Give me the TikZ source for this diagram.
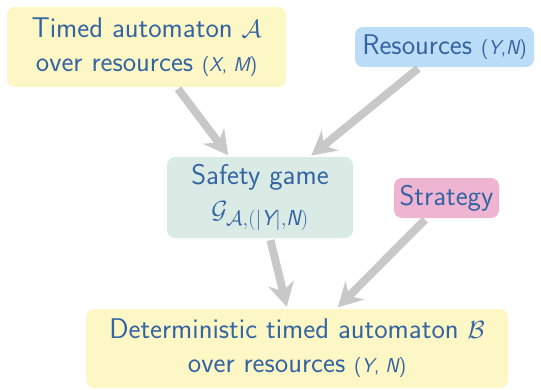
\documentclass[tikz,border=0pt]{standalone}
\usepackage{fontspec}
\usepackage{amsmath}
\usetikzlibrary{arrows.meta}

\renewcommand{\defaultscriptratio}{.76}

\definecolor{txt}{RGB}{53,100,163}
\definecolor{ylw}{RGB}{252,247,196}
\definecolor{blu}{RGB}{187,221,247}
\definecolor{tea}{RGB}{218,235,230}
\definecolor{pnk}{RGB}{240,180,211}
\definecolor{arr}{RGB}{200,200,200}

% smaller set for the parameter pairs, with slanted variable names
\newcommand{\pair}[1]{{\fontsize{20}{20}\selectfont #1}}
\newcommand{\vv}[1]{{\itshape #1}}
\newcommand{\sv}[1]{\text{\itshape #1}}

\tikzset{
  box/.style={rounded corners=8pt, align=center, text=txt, inner sep=0pt,
    font=\sffamily\fontsize{28.5}{34}\selectfont},
  flow/.style={draw=arr, line width=8pt,
    -{Stealth[length=24pt,width=26pt,inset=8pt]},
    shorten <=2pt, shorten >=2pt}
}

\begin{document}
\begin{tikzpicture}[x=1pt,y=-1pt]
\useasboundingbox (0,0) rectangle (541,389);

\node[box, fill=ylw, minimum width=279pt, minimum height=80pt] (A) at (146.5,47)
  {Timed automaton $\mathcal{A}$\\over resources \pair{(\vv{X}, \vv{M})}};
\node[box, fill=blu, minimum width=179pt, minimum height=40pt] (R) at (444.5,47)
  {Resources \pair{(\vv{Y},\vv{N})}};
\node[box, fill=tea, minimum width=186pt, minimum height=81pt] (S) at (260,197.5)
  {Safety game\\$\mathcal{G}_{\mathcal{A},(|\sv{Y}|,\sv{N})}$};
\node[box, fill=pnk, minimum width=105pt, minimum height=40pt] (T) at (446.5,198)
  {Strategy};
\node[box, fill=ylw, minimum width=422pt, minimum height=79pt] (B) at (297,348.5)
  {Deterministic timed automaton $\mathcal{B}$\\over resources \pair{(\vv{Y}, \vv{N})}};

\draw[flow] (A) -- (S);
\draw[flow] (R) -- (S);
\draw[flow] (S) -- (B);
\draw[flow] (T) -- (B);
\end{tikzpicture}
\end{document}
